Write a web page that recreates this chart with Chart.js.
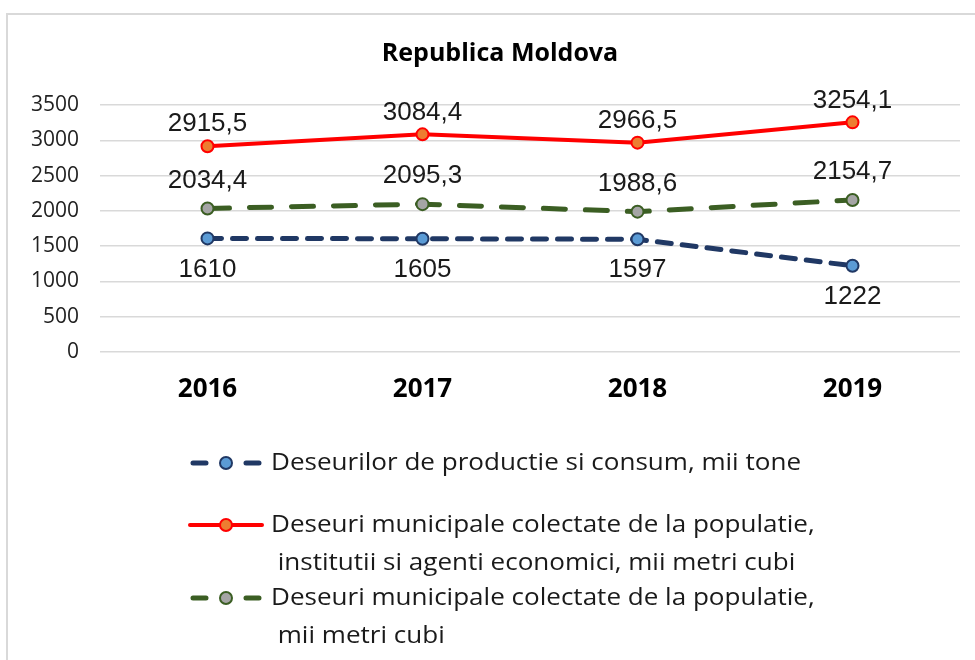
<!DOCTYPE html>
<html lang="ro">
<head>
  <meta charset="UTF-8" />
  <title>Republica Moldova</title>
  <script src="https://cdn.jsdelivr.net/npm/chart.js"></script>
  <style>
    body {
      background-color: white;
      margin: 0;
      padding: 0;
    }

    #wrap {
      width: 975px;
      height: 660px;
      position: relative;
    }
  </style>
</head>
<body>

  <div id="wrap">
    <canvas id="chart" width="975" height="660"></canvas>
  </div>

  <script>
    const ani = ['2016', '2017', '2018', '2019'];
    const productieConsum = [1610, 1605, 1597, 1222];
    const municipaleTotal = [2915.5, 3084.4, 2966.5, 3254.1];
    const municipalePopulatie = [2034.4, 2095.3, 1988.6, 2154.7];
    const yTicks = [0, 500, 1000, 1500, 2000, 2500, 3000, 3500];

    const legendLines = [
      ['Deseurilor de productie si consum, mii tone'],
      ['Deseuri municipale colectate de la populatie,', ' institutii si agenti economici, mii metri cubi'],
      ['Deseuri municipale colectate de la populatie,', ' mii metri cubi']
    ];

    const FONT = '"Open Sans", sans-serif';

    // etichete cu valori, sus sau jos fata de punct
    const etichetePlugin = {
      id: 'etichete',
      afterDatasetsDraw(chart) {
        const ctx = chart.ctx;
        ctx.save();
        ctx.font = '26px "Liberation Sans", sans-serif';
        ctx.fillStyle = '#1a1a1a';
        ctx.textAlign = 'center';
        ctx.textBaseline = 'middle';
        chart.data.datasets.forEach((ds, i) => {
          const meta = chart.getDatasetMeta(i);
          meta.data.forEach((pt, j) => {
            const txt = String(ds.data[j]).replace('.', ',');
            ctx.fillText(txt, pt.x, pt.y + ds.labelOffset);
          });
        });
        ctx.restore();
      }
    };

    // titlu, chenar si legenda desenate de mana
    const decorPlugin = {
      id: 'decor',
      beforeDraw(chart) {
        const ctx = chart.ctx;
        ctx.save();
        ctx.strokeStyle = '#d9d9d9';
        ctx.lineWidth = 2;
        ctx.beginPath();
        ctx.moveTo(7, 660);
        ctx.lineTo(7, 14);
        ctx.lineTo(975, 14);
        ctx.stroke();
        ctx.restore();
      },
      afterDraw(chart) {
        const ctx = chart.ctx;
        ctx.save();
        ctx.font = 'bold 25px ' + FONT;
        ctx.fillStyle = '#000';
        ctx.textAlign = 'center';
        ctx.textBaseline = 'middle';
        ctx.fillText('Republica Moldova', 500, 54);

        // latimea textului din legenda potrivita dupa original
        ctx.font = '24px ' + FONT;
        const sx = 530 / ctx.measureText(legendLines[0][0]).width;

        const rows = [463, 525, 598];
        chart.data.datasets.forEach((ds, i) => {
          const y = rows[i];
          ctx.strokeStyle = ds.borderColor;
          ctx.lineWidth = ds.borderWidth;
          ctx.lineCap = 'round';
          if (ds.borderDash.length) {
            ctx.beginPath();
            ctx.moveTo(193, y); ctx.lineTo(206, y);
            ctx.moveTo(246, y); ctx.lineTo(259, y);
            ctx.stroke();
          } else {
            ctx.beginPath();
            ctx.moveTo(190, y); ctx.lineTo(262, y);
            ctx.stroke();
          }
          ctx.beginPath();
          ctx.arc(226, y, 6, 0, Math.PI * 2);
          ctx.fillStyle = ds.pointBackgroundColor;
          ctx.fill();
          ctx.lineWidth = 2;
          ctx.strokeStyle = ds.pointBorderColor;
          ctx.stroke();

          ctx.fillStyle = '#1a1a1a';
          ctx.textAlign = 'left';
          legendLines[i].forEach((t, k) => {
            ctx.save();
            ctx.translate(271, y + k * 38);
            ctx.scale(sx, 1);
            ctx.fillText(t, 0, 0);
            ctx.restore();
          });
        });
        ctx.restore();
      }
    };

    const ctx = document.getElementById('chart').getContext('2d');
    const chart = new Chart(ctx, {
      type: 'line',
      data: {
        labels: ani,
        datasets: [{
          label: 'Deseurilor de productie si consum, mii tone',
          data: productieConsum,
          borderColor: '#203864',
          borderWidth: 5,
          borderDash: [14, 11],
          borderCapStyle: 'round',
          pointBackgroundColor: '#5b9bd5',
          pointBorderColor: '#203864',
          pointBorderWidth: 2,
          pointRadius: 6,
          tension: 0,
          labelOffset: 31
        }, {
          label: 'Deseuri municipale colectate de la populatie, institutii si agenti economici, mii metri cubi',
          data: municipaleTotal,
          borderColor: '#ff0000',
          borderWidth: 4,
          borderDash: [],
          pointBackgroundColor: '#ed7d31',
          pointBorderColor: '#ff0000',
          pointBorderWidth: 2,
          pointRadius: 6,
          tension: 0,
          labelOffset: -22
        }, {
          label: 'Deseuri municipale colectate de la populatie, mii metri cubi',
          data: municipalePopulatie,
          borderColor: '#3b5e23',
          borderWidth: 5,
          borderDash: [22, 20],
          borderCapStyle: 'round',
          pointBackgroundColor: '#a5a5a5',
          pointBorderColor: '#3b5e23',
          pointBorderWidth: 2,
          pointRadius: 6,
          tension: 0,
          labelOffset: -28
        }]
      },
      options: {
        responsive: false,
        animation: false,
        layout: {
          padding: { top: 105, left: 0, right: 15, bottom: 248 }
        },
        plugins: {
          legend: { display: false },
          title: { display: false },
          tooltip: { enabled: false }
        },
        scales: {
          x: {
            offset: true,
            grid: { display: false, drawTicks: false },
            border: { display: false },
            ticks: {
              color: '#000',
              padding: 22,
              font: { family: FONT, size: 26, weight: 'bold' }
            },
            afterFit(s) { s.height = 60; }
          },
          y: {
            min: 0,
            max: 3500,
            grid: { color: '#d9d9d9', lineWidth: 1.5, drawTicks: false },
            border: { display: false },
            afterBuildTicks(s) { s.ticks = yTicks.map(v => ({ value: v })); },
            ticks: {
              color: '#222',
              padding: 21,
              font: { family: FONT, size: 21 },
              callback: v => String(v)
            },
            afterFit(s) { s.width = 100; }
          }
        }
      },
      plugins: [etichetePlugin, decorPlugin]
    });
  </script>
</body>
</html>
